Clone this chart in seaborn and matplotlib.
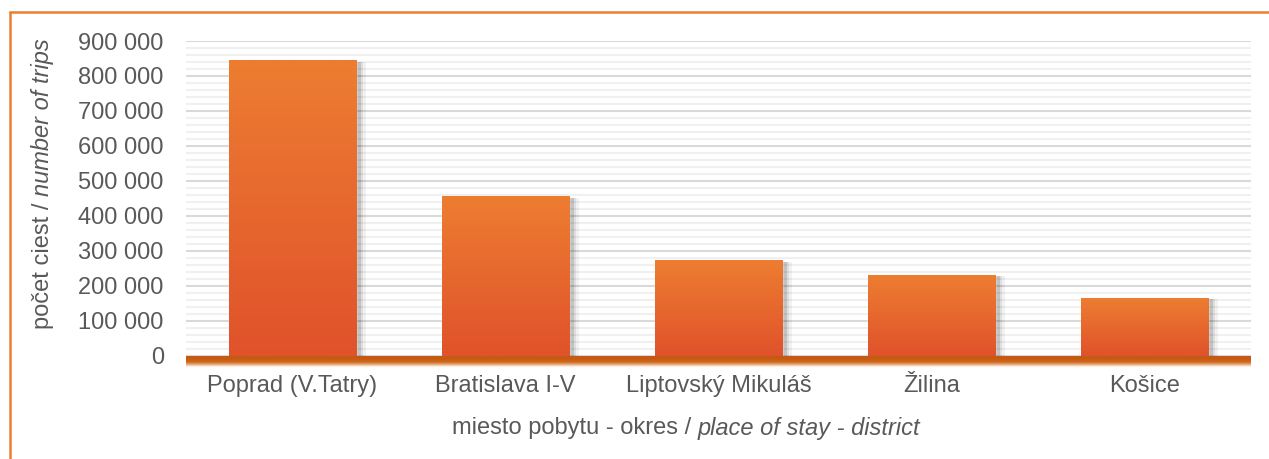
import numpy as np
import matplotlib
matplotlib.use("Agg")
import matplotlib.pyplot as plt
import matplotlib.patheffects as pe
from matplotlib.patches import Rectangle
from matplotlib.lines import Line2D
from matplotlib.ticker import FuncFormatter, MultipleLocator
import matplotlib.colors as mcolors
import seaborn as sns

# ---- data ----
categories = ["Poprad (V.Tatry)", "Bratislava I-V", "Liptovský Mikuláš", "Žilina", "Košice"]
trips = [845000, 456000, 273000, 231000, 165000]

xlabel_plain = "miesto pobytu - okres / "
xlabel_italic = "place of stay - district"
ylabel_plain = "počet ciest / "
ylabel_italic = "number of trips"

sns.set_theme(style="white")
plt.rcParams["font.family"] = ["Liberation Sans", "DejaVu Sans"]

TXT = "#595959"
FS = 17

fig = plt.figure(figsize=(12.69, 4.59), dpi=100)
ax = fig.add_axes([186 / 1269, 103.3 / 459, (1251 - 186) / 1269, 314.7 / 459])

sns.barplot(x=categories, y=trips, width=0.6, color="#E8672F", ax=ax,
            saturation=1, zorder=2)

ax.set_xlim(-0.5, len(categories) - 0.5)
ax.set_ylim(0, 900000)

# grid
ax.set_axisbelow(True)
ax.yaxis.set_major_locator(MultipleLocator(100000))
ax.yaxis.set_minor_locator(MultipleLocator(20000))
ax.grid(which="major", axis="y", color="#D9D9D9", linewidth=1.5)
ax.grid(which="minor", axis="y", color="#F0F0F0", linewidth=1.5)
ax.grid(False, axis="x")
for s in ax.spines.values():
    s.set_visible(False)

ax.yaxis.set_major_formatter(FuncFormatter(lambda v, p: f"{int(v):,}".replace(",", " ")))
ax.tick_params(axis="y", which="both", length=0, pad=16, labelsize=FS, labelcolor=TXT)
ax.tick_params(axis="x", length=0, pad=14, labelsize=FS, labelcolor=TXT)
ax.set_xlabel("")
ax.set_ylabel("")

# back wall with soft glow
wall = Rectangle((-0.5, 0), len(categories), 876000, facecolor="white",
                 edgecolor="none", zorder=0.2)
wall.set_path_effects([
    pe.SimplePatchShadow(offset=(-4, 0), shadow_rgbFace="#F1C9A8", alpha=0.6),
    pe.SimplePatchShadow(offset=(4, 0), shadow_rgbFace="#F1C9A8", alpha=0.6),
    pe.SimplePatchShadow(offset=(-2, 0), shadow_rgbFace="#E9B48A", alpha=0.6),
    pe.SimplePatchShadow(offset=(2, 0), shadow_rgbFace="#E9B48A", alpha=0.6),
    pe.Normal()])
ax.add_patch(wall)

# gradient bars with shadow
cmap_bar = mcolors.LinearSegmentedColormap.from_list("bar", ["#E0522B", "#ED7D31"])
grad = np.linspace(0, 1, 256).reshape(-1, 1)
for patch in ax.patches:
    if patch is wall:
        continue
    x0, y0 = patch.get_x(), patch.get_y()
    w, h = patch.get_width(), patch.get_height()
    patch.set_path_effects([
        pe.SimplePatchShadow(offset=(7, -1), shadow_rgbFace="#000000", alpha=0.05),
        pe.SimplePatchShadow(offset=(5, -1), shadow_rgbFace="#000000", alpha=0.08),
        pe.SimplePatchShadow(offset=(3, -1), shadow_rgbFace="#000000", alpha=0.12),
        pe.Normal()])
    ax.imshow(grad, extent=(x0, x0 + w, y0, y0 + h), origin="lower",
              cmap=cmap_bar, aspect="auto", zorder=3, interpolation="bilinear")

# floor
cmap_floor = mcolors.LinearSegmentedColormap.from_list(
    "floor", [(1, 1, 1, 0), "#EDB78A", "#D06A20", "#C65A12", "#C65A12"])
floor_grad = np.linspace(0, 1, 64).reshape(-1, 1)
ax.imshow(floor_grad, extent=(-0.5, len(categories) - 0.5, -34000, 0), origin="lower",
          cmap=cmap_floor, aspect="auto", zorder=1.5, clip_on=False,
          interpolation="bilinear")

ax.set_xlim(-0.5, len(categories) - 0.5)
ax.set_ylim(0, 900000)

# outer frame (left and top lines)
fig.add_artist(Line2D([10 / 1269, 10 / 1269], [0, 1 - 12 / 459], color="#ED7D31",
                      linewidth=1.8, transform=fig.transFigure))
fig.add_artist(Line2D([10 / 1269, 1], [1 - 12 / 459, 1 - 12 / 459], color="#ED7D31",
                      linewidth=1.8, transform=fig.transFigure))

# mixed-style axis labels
renderer = fig.canvas.get_renderer()

def mixed_label(plain, italic, cx, cy, rotation=0):
    t1 = fig.text(0, 0, plain, fontsize=FS, color=TXT, rotation=rotation,
                  ha="left", va="center", rotation_mode="anchor")
    t2 = fig.text(0, 0, italic, fontsize=FS, color=TXT, rotation=rotation,
                  style="italic", ha="left", va="center", rotation_mode="anchor")
    m1 = fig.text(0, 0, plain, fontsize=FS)
    m2 = fig.text(0, 0, italic, fontsize=FS, style="italic")
    w1 = m1.get_window_extent(renderer).width
    w2 = m2.get_window_extent(renderer).width
    m1.remove(); m2.remove()
    tot = w1 + w2
    W, H = fig.bbox.width, fig.bbox.height
    if rotation == 0:
        sx = cx * W - tot / 2
        t1.set_position((sx / W, cy))
        t2.set_position(((sx + w1) / W, cy))
    else:
        sy = cy * H - tot / 2
        t1.set_position((cx, sy / H))
        t2.set_position((cx, (sy + w1) / H))

mixed_label(xlabel_plain, xlabel_italic, 686 / 1269, 1 - 428 / 459)
mixed_label(ylabel_plain, ylabel_italic, 43 / 1269, 1 - 184 / 459, rotation=90)

fig.savefig("out.png", dpi=100)
